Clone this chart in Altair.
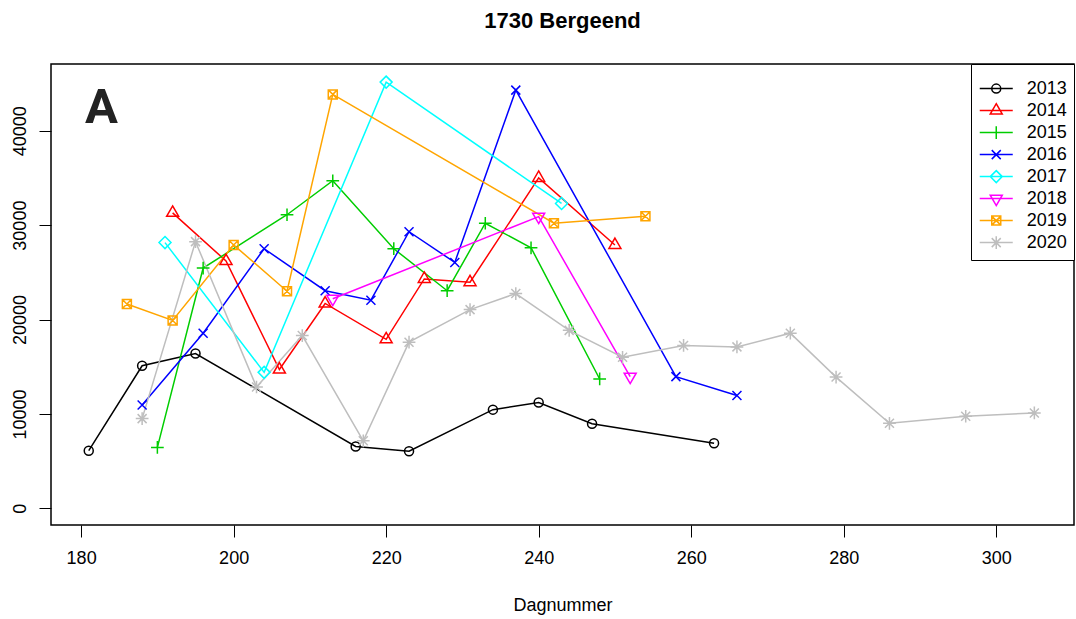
import altair as alt
import pandas as pd

years = ["2013", "2014", "2015", "2016", "2017", "2018", "2019", "2020"]
colors = ["black", "#FF0000", "#00CD00", "#0000FF", "#00FFFF", "#FF00FF", "#FFA500", "#BEBEBE"]

days_2013 = [181, 188, 195, 216, 223, 234, 240, 247, 263]
vals_2013 = [6100, 15100, 16400, 6550, 6050, 10450, 11200, 8950, 6900]
days_2014 = [192, 199, 206, 212, 220, 225, 231, 240, 250]
vals_2014 = [31300, 26200, 14700, 21700, 17900, 24300, 23950, 35000, 27900]
days_2015 = [190, 196, 207, 213, 221, 228, 233, 239, 248]
vals_2015 = [6450, 25450, 31100, 34700, 27500, 23050, 30200, 27600, 13700]
days_2016 = [188, 196, 204, 212, 218, 223, 229, 237, 258, 266]
vals_2016 = [10950, 18550, 27500, 23050, 22050, 29300, 26050, 44300, 13950, 11950]
days_2017 = [191, 204, 220, 243]
vals_2017 = [28150, 14400, 45150, 32300]
days_2018 = [213, 240, 252]
vals_2018 = [22200, 30900, 13950]
days_2019 = [186, 192, 200, 207, 213, 242, 254]
vals_2019 = [21650, 19900, 27900, 23000, 43850, 30200, 30950]
days_2020 = [188, 195, 203, 209, 217, 223, 231, 237, 244, 251, 259, 266, 273, 279, 286, 296, 305]
vals_2020 = [9500, 28250, 12850, 18300, 7150, 17600, 21050, 22750, 18850, 16000, 17250, 17100,
             18550, 13900, 9000, 9750, 10100]

x_ticks = [180, 200, 220, 240, 260, 280, 300]
y_ticks = [0, 10000, 20000, 30000, 40000]

series = {
    "2013": (days_2013, vals_2013), "2014": (days_2014, vals_2014),
    "2015": (days_2015, vals_2015), "2016": (days_2016, vals_2016),
    "2017": (days_2017, vals_2017), "2018": (days_2018, vals_2018),
    "2019": (days_2019, vals_2019), "2020": (days_2020, vals_2020),
}
rows = []
for y, (ds, vs) in series.items():
    for d, v in zip(ds, vs):
        rows.append({"jaar": y, "legjaar": y, "dag": d, "aantal": v})
df = pd.DataFrame(rows)

# R-like plotting symbols (pch 1..8), unit = 6 px
m_circle = "M0.75,0A0.75,0.75 0 1,1 -0.75,0A0.75,0.75 0 1,1 0.75,0Z"
m_tri_up = "M0,-1.155L1,0.577L-1,0.577Z"
m_plus = "M-1.06,0H1.06M0,-1.06V1.06"
m_x = "M-0.75,-0.75L0.75,0.75M-0.75,0.75L0.75,-0.75"
m_diamond = "M0,-1L1,0L0,1L-1,0Z"
m_tri_dn = "M0,1.155L1,-0.577L-1,-0.577Z"
m_boxx = "M-0.75,-0.75H0.75V0.75H-0.75ZM-0.75,-0.75L0.75,0.75M-0.75,0.75L0.75,-0.75"
m_star = "M-1.06,0H1.06M0,-1.06V1.06M-0.75,-0.75L0.75,0.75M-0.75,0.75L0.75,-0.75"
markers = [m_circle, m_tri_up, m_plus, m_x, m_diamond, m_tri_dn, m_boxx, m_star]
legend_shapes = ["M-2.75,0H2.75" + m + "M0,-1.2M0,1.2" for m in markers]

FONT = "Liberation Sans"
xscale = alt.Scale(domain=[176.05, 310.2], nice=False, zero=False)
yscale = alt.Scale(domain=[-1770, 47070], nice=False, zero=False)

xenc = alt.X("dag:Q", scale=xscale, axis=alt.Axis(
    values=x_ticks, title="Dagnummer", grid=False, domain=False, tickSize=12, tickColor="black",
    tickWidth=1, labelFont=FONT, labelFontSize=18, labelColor="black", labelBaseline="alphabetic",
    labelPadding=26, titleFont=FONT, titleFontSize=18, titleFontWeight="normal", titleColor="black",
    titleBaseline="alphabetic", titleY=85, labelFlush=False))
yenc = alt.Y("aantal:Q", scale=yscale, axis=alt.Axis(
    values=y_ticks, title=None, grid=False, domain=False, tickSize=12, tickColor="black",
    tickWidth=1, labelFont=FONT, labelFontSize=18, labelColor="black", labelAngle=-90,
    labelAlign="center", labelBaseline="alphabetic", labelPadding=14, format="d", labelFlush=False))

color_scale = alt.Scale(domain=years, range=colors)

leg = alt.Legend(
    title=" ", titleFontSize=2, titlePadding=7.1, orient="top-right", offset=0, padding=6.5,
    strokeColor="black", fillColor="white", labelFont=FONT, labelFontSize=18, labelColor="black",
    symbolOffset=9.75, labelOffset=21.5, rowPadding=0, symbolOpacity=1,
    symbolStrokeWidth=1.5, symbolSize=144)

base = alt.Chart(df)
lines = base.mark_line(strokeWidth=1.5).encode(
    x=xenc, y=yenc,
    color=alt.Color("jaar:N", scale=color_scale, legend=None),
)
points = base.mark_point(filled=False, strokeWidth=1.5, size=144, opacity=1).encode(
    x=xenc, y=yenc,
    color=alt.Color("jaar:N", scale=color_scale, legend=None),
    shape=alt.Shape("jaar:N", scale=alt.Scale(domain=years, range=markers), legend=None),
)
legend_layer = base.mark_point(filled=False, strokeWidth=1.5, size=144).encode(
    x=xenc, y=yenc,
    opacity=alt.value(0),
    color=alt.Color("legjaar:N", scale=alt.Scale(domain=years, range=colors), legend=leg),
    shape=alt.Shape("legjaar:N", scale=alt.Scale(domain=years, range=legend_shapes), legend=leg),
)
panel = alt.Chart(pd.DataFrame({"t": ["A"]})).mark_text(
    font="Roboto", fontSize=49, fontWeight="bold", color="#222222", align="left",
    baseline="alphabetic").encode(x=alt.value(34), y=alt.value(58.7), text="t:N")

chart = alt.layer(lines, points, legend_layer, panel).resolve_scale(
    color="independent", shape="independent", opacity="independent"
).properties(
    width=1023, height=461,
    background="white",
    title=alt.TitleParams("1730 Bergeend", font=FONT, fontSize=22, fontWeight="bold",
                          color="black", anchor="middle", offset=31),
    padding={"left": 51, "top": 64, "right": 2, "bottom": 94},
    autosize=alt.AutoSizeParams(type="none"),
).configure_view(stroke="black", strokeWidth=1.5)

chart.save("out.html", embed_options={"renderer": "svg", "actions": False})
